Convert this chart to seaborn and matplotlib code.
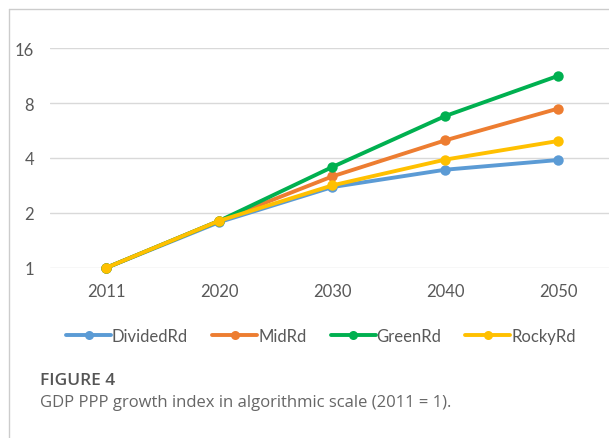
import matplotlib
matplotlib.use("Agg")
import matplotlib.pyplot as plt
import seaborn as sns
import pandas as pd
from matplotlib.ticker import FixedLocator, FixedFormatter, NullLocator
from matplotlib.lines import Line2D

years = ["2011", "2020", "2030", "2040", "2050"]
divided_rd = [1.0, 1.78, 2.77, 3.45, 3.90]
mid_rd = [1.0, 1.81, 3.17, 5.00, 7.47]
green_rd = [1.0, 1.81, 3.57, 6.80, 11.3]
rocky_rd = [1.0, 1.81, 2.83, 3.92, 4.96]
series_names = ["DividedRd", "MidRd", "GreenRd", "RockyRd"]
y_ticks = [1, 2, 4, 8, 16]
y_tick_labels = ["1", "2", "4", "8", "16"]
caption_title = "FIGURE 4"
caption_text = "GDP PPP growth index in algorithmic scale (2011 = 1)."

colors = ["#5B9BD5", "#ED7D31", "#00B050", "#FFC000"]

rows = []
for name, vals in zip(series_names, [divided_rd, mid_rd, green_rd, rocky_rd]):
    for yr, v in zip(years, vals):
        rows.append({"Year": yr, "Index": v, "Scenario": name})
df = pd.DataFrame(rows)

sns.set_theme(style="white")
plt.rcParams["font.family"] = ["Lato", "DejaVu Sans"]

fig = plt.figure(figsize=(6.09, 4.39), dpi=100)
ax = fig.add_axes([50 / 609, 1 - 268.7 / 439, 1 - 50 / 609, (268.7 - 49.3) / 439])

sns.lineplot(data=df, x="Year", y="Index", hue="Scenario", hue_order=series_names,
             palette=colors, marker="o", markersize=7.5, markeredgewidth=0,
             linewidth=2.8, legend=False, ax=ax, sort=False)
for ln in ax.lines:
    ln.set_clip_on(False)

ax.set_yscale("log", base=2)
ax.set_ylim(1, 16)
ax.set_xlim(-0.5, 4.45)
ax.yaxis.set_major_locator(FixedLocator(y_ticks))
ax.yaxis.set_major_formatter(FixedFormatter(y_tick_labels))
ax.yaxis.set_minor_locator(NullLocator())
ax.grid(axis="y", color="#D9D9D9", linewidth=1.0)
ax.set_axisbelow(True)
for s in ax.spines.values():
    s.set_visible(False)
ax.tick_params(axis="both", length=0, labelsize=12, labelcolor="#595959")
ax.tick_params(axis="y", pad=11.5)
ax.tick_params(axis="x", pad=11)
ax.set_xlabel("")
ax.set_ylabel("")

handles = [Line2D([0], [0], color=c, linewidth=2.8, marker="o", markersize=6.5,
                  markeredgewidth=0) for c in colors]
leg = fig.legend(handles, series_names, loc="center", ncol=4, frameon=False,
                 bbox_to_anchor=(0.527, 1 - 337 / 439), fontsize=12,
                 handlelength=2.7, handletextpad=0.05, columnspacing=1.45,
                 labelcolor="#595959")

# outer frame (top and left borders)
fig.add_artist(Line2D([9 / 609, 1], [1 - 9.5 / 439, 1 - 9.5 / 439],
                      transform=fig.transFigure, color="#CCCCCC", linewidth=1.0))
fig.add_artist(Line2D([9 / 609, 9 / 609], [0, 1 - 9.5 / 439],
                      transform=fig.transFigure, color="#CCCCCC", linewidth=1.0))

fig.text(40 / 609, 1 - 381 / 439, caption_title, fontsize=12.5, fontweight="semibold",
         color="#555555", va="center", ha="left", family=["Open Sans", "DejaVu Sans"])
fig.text(40 / 609, 1 - 403 / 439, caption_text, fontsize=12,
         color="#666666", va="center", ha="left", family=["Open Sans", "DejaVu Sans"])

fig.savefig("out.png", dpi=100)
